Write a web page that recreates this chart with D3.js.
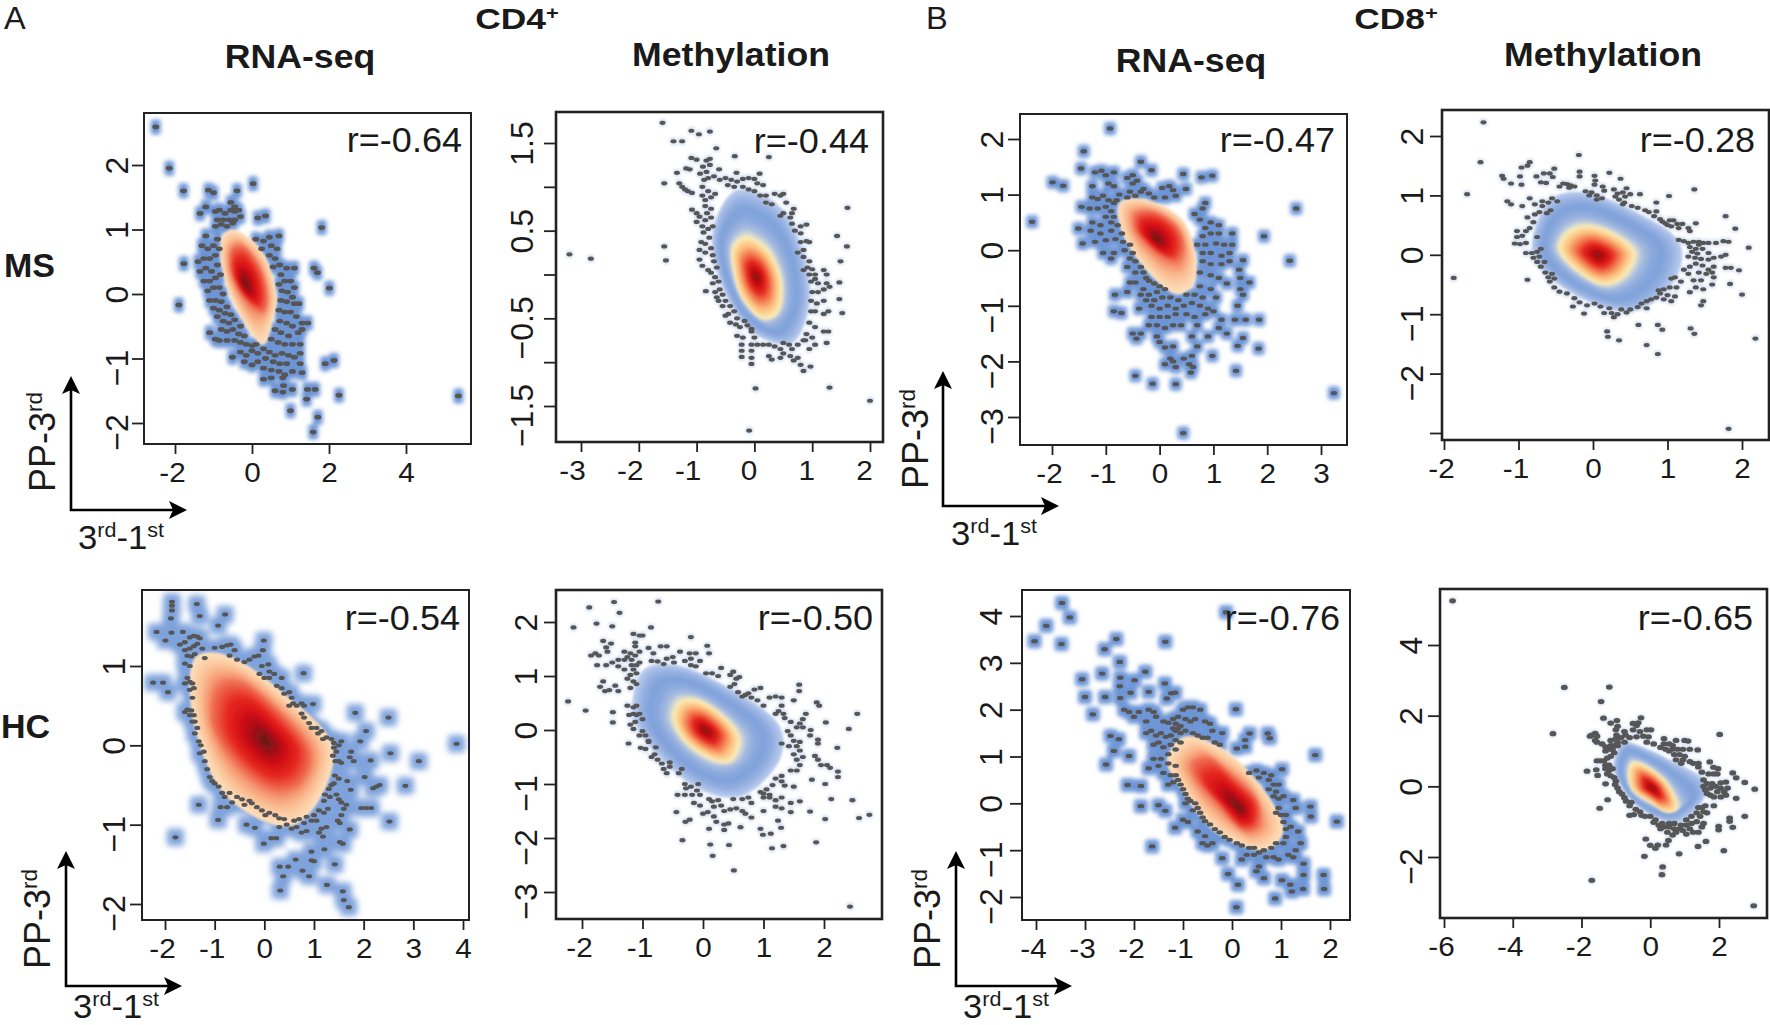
<!DOCTYPE html>
<html><head><meta charset="utf-8">
<script src="https://cdn.jsdelivr.net/npm/d3@7/dist/d3.min.js"></script>
<style>html,body{margin:0;padding:0;background:#fff}svg{display:block}text{font-family:"Liberation Sans",Arial,sans-serif;fill:#1a1a1a}</style>
</head><body><div id="chart"></div>
<script>
// ---- Outlying points (x, y in data units) ----
const msRnaCd4 = [[-2.5,2.59],[-2.15,1.95],[-1.78,1.6],[-1.13,1.61],[-1,1.57],[-.39,1.6],[.03,1.71],[.15,1.18],[.35,1.21],[1.81,1.03],[-1.77,.47],[-1.9,-.17],[1.61,.4],[1.7,.33],[2.01,.09],[1.9,-1.08],[2.13,-1.03],[2.26,-1.57],[5.36,-1.58],[1.59,-2.14],[1.71,-1.91],[1,-1.81],[1.42,-1.63],[1.44,-1.48],[1.64,-1.48],[-.51,-.98],
[-.95,1.28],[-.85,1.3],[-.7,1.25],[-.55,1.3],[-.45,1.28],[-.35,1.3],[-.9,1.15],[-.75,1.15],[-.6,1.15],[-.45,1.15],[-.3,1.2],[-.95,1.05],[-.8,1.08],[-.65,1.05],[-.5,1.1],[-1.35,1.25],[-1.2,1.35],[-.55,1.42],[-.45,1.35],
[-1.2,.9],[-1.3,.75],[-1.15,.7],[-1,.75],[-.9,.85],[-1.4,.5],[-1.25,.55],[-1.1,.55],[-.95,.6],[-.85,.7],[-1.35,.35],[-1.2,.4],[-1.05,.35],[-.9,.45],[-1.25,.2],[-1.1,.2],[-.95,.25],[-.82,.3],[-1.15,.05],[-1,.1],[-.85,.1],[-.75,0],[-1.1,-.1],[-.95,-.1],[-.8,-.12],[-.65,-.2],[-1,-.22],[-.85,-.25],[-.7,-.3],[-.55,-.32],[-.9,-.35],[-.75,-.42],[-.6,-.45],[-.45,-.4],[-.3,-.5],[-.8,-.55],[-.65,-.58],[-.5,-.55],[-.35,-.62],[-.2,-.65],[-1.1,-.6],[-.95,-.7],[-.85,-.72],[-.65,-.72],[-.45,-.72],[-.3,-.75],[-.15,-.78],[0,-.8],[.1,-.78],
[.3,.82],[.45,.88],[.7,.9],[.1,.85],[.25,.7],[.5,.75],[.65,.7],[.45,.6],[.6,.55],[.55,.42],[.72,.45],[.75,.3],[.9,.4],[1.1,.4],[.7,.15],[.85,.2],[1,.2],[1.1,.1],[.78,.05],[.92,.03],[1.05,-.05],[.75,-.1],[.9,-.12],[1.1,-.15],[1.22,-.15],[.7,-.25],[.85,-.28],[1,-.28],[1.15,-.35],[.72,-.42],[.9,-.45],[1.05,-.5],[1.3,-.45],[1.45,-.45],[.6,-.55],[.75,-.6],[.95,-.65],[1.2,-.6],[1.3,-.55],[.5,-.7],[.68,-.75],[.85,-.78],[1.05,-.78],[1.25,-.78],
[-.3,-.9],[-.15,-.95],[0,-.88],[.15,-.92],[.3,-.85],[.45,-.9],[.6,-.95],[.78,-.92],[.95,-.95],[1.1,-.98],[1.25,-.92],[-.2,-1.05],[0,-1.1],[.15,-1.05],[.35,-1],[.55,-1.05],[.72,-1.08],[.9,-1.08],[1.25,-1.08],[.3,-1.15],[.5,-1.18],[.7,-1.2],[.85,-1.25],[1.05,-1.2],[1.3,-1.22],[.3,-1.32],[.5,-1.3],[.8,-1.3],[.6,-1.5],[.8,-1.52],[1.05,-1.48],[.82,-1.42]];

const msMethCd4 = [[-1.59,1.73],[-1.09,1.64],[-.96,1.6],[-.77,1.63],[-1.4,1.52],[-1.25,1.52],[-.66,1.44],[-.34,1.35],[.25,1.34],[-1.56,1.04],[-1.56,.32],[-1.53,.16],[-3.2,.23],[-2.83,.18],[1.61,.76],[1.43,.44],[1.6,.32],[1.49,.15],[1.47,-.09],[1.47,-.28],[1.52,-.44],[.02,-1.3],[1.3,-1.29],[2,-1.44],[-.09,-1.78],[-.84,-.19],
[-1.09,1.33],[-1,1.31],[-.83,1.3],[-.77,1.32],[-1.18,1.21],[-1.12,1.2],[-.89,1.23],[-.77,1.25],[-1.34,1.16],[-.94,1.15],[-.83,1.17],[-.61,1.2],[-.31,1.16],[.09,1.15],[-.87,1.08],[-.8,1.1],[-.7,1.12],[-.6,1.08],[-.5,1.1],[-.4,1.08],[-.3,1.06],[-.2,1.09],[-.1,1.1],[0,1.09],[.05,1.04],[.15,1.02],[-.46,1.02],[-.35,1],[-.2,1],[-.1,.97],[0,.95],[.1,.9],[.2,.9],[.35,.92],[.45,.9],[.5,.92],[.3,.8],[.2,.82],[-1.3,1.04],[-1.25,1],[-1.2,.97],[-1.15,.95],[-1.08,.93],
[-.9,1],[-.9,.9],[-.8,.95],[-.85,.85],[-.75,.88],[-.68,.92],[-.85,.78],[-.75,.75],[-.82,.7],[-1.08,.74],[-1,.7],[-.95,.66],[-.85,.62],[-.75,.65],[-1,.6],[-.9,.55],[-.8,.52],[-.88,.48],[-.78,.42],[-.72,.55],[-.92,.37],[-.85,.35],[-.75,.3],[-.95,.28],[-.85,.25],[-.72,.22],[-.95,.17],[-.9,.1],[-.8,.05],[-.7,.15],[-.75,.02],[-.65,.08],[-.68,-.03],[-.62,-.08],[-.72,-.1],[-.6,-.17],[-.68,-.2],[-.65,-.26],[-.55,-.23],[-.62,-.3],[-.5,-.3],[-.55,-.36],[-.42,-.36],[-.35,-.42],[-.45,-.45],[-.5,-.47],[-.3,-.5],[-.42,-.55],[-.32,-.57],[-.17,-.53],[-.25,-.6],[-.12,-.58],[-.05,-.62],
[-.3,-.7],[-.2,-.72],[-.05,-.65],[0,-.72],[-.05,-.8],[-.22,-.8],[-.22,-.87],[-.22,-.94],[-.05,-.87],[.05,-.8],[.15,-.8],[.25,-.8],[.35,-.82],[.45,-.85],[.5,-.78],[.6,-.8],[.65,-.85],[.75,-.8],[.5,-.9],[.45,-.95],[.25,-.93],[.3,-.97],[.62,-.93],[.75,-.95],[.68,-.98],[.8,-1.03],[.85,-1.1],[.97,-1.05],[-.05,-.95],[-.05,-1.02],[.85,-.75],
[.55,.82],[.68,.75],[.5,.7],[.45,.67],[.62,.65],[.65,.7],[.8,.55],[.65,.58],[.7,.5],[.8,.47],[.9,.57],[.95,.37],[.8,.37],[.9,.38],[.85,.28],[.75,.25],[.85,.2],[.95,.15],[.92,.08],[1,.06],[.85,.05],[.95,0],[1.05,0],[1.2,.05],[1.25,0],[1.05,-.05],[.98,-.08],[1.1,-.1],[1.25,-.1],[1.3,-.14],[1,-.2],[1.1,-.2],[1.2,-.17],[.98,-.3],[1.08,-.33],[1.2,-.3],[.98,-.42],[1.05,-.42],[1.2,-.45],[1.28,-.42],[.95,-.55],[1.05,-.6],[1.2,-.65],[1.28,-.65],[.9,-.68],[1,-.72],[.88,-.75],[1.05,-.8],[1.25,-.78],[.95,-.85]];

const msRnaCd8 = [[-.92,2.19],[-1.41,1.78],[-1.46,1.47],[-.35,1.59],[-.15,1.44],[.44,1.37],[.78,1.31],[.98,1.34],[.49,1.1],[-1.99,1.22],[-1.79,1.16],[-2.37,.51],[-1.45,.78],[-1.51,.39],[-1.43,.12],[2.54,.75],[1.94,.25],[2.42,-.19],[3.24,-2.57],[.44,-3.29],[1.85,-1.25],[1.84,-1.77],[.98,-1.9],[1.42,-2.17],[-.45,-2.26],[-.13,-2.4],[.3,-2.41],[-.83,-.8],[-.85,-1.1],[-.71,-1.13],[-.43,-1.59],
[-1.2,1.4],[-1.08,1.43],[-1,1.35],[-.85,1.4],[-.6,1.3],[-.5,1.35],[-.5,1.2],[-.42,1.25],[-.3,1.1],[.05,1.12],[.18,1.15],[.25,1.08],[.3,.98],[.1,.95],[-.1,.95],[-.2,1.02],[-.35,1.05],[-.55,1.05],[-.45,.98],[-.6,.95],[-.95,1.2],[-.85,1.15],[-1.25,1.15],[-.75,1],[-.8,.9],
[-1.25,.95],[-1.15,.92],[-1.05,.98],[-.95,.9],[-.85,.85],[-1.3,.75],[-1.15,.75],[-1,.78],[-.9,.7],[-.85,.6],[-1,.6],[-1.25,.5],[-1.1,.45],[-.9,.5],[-.78,.45],[-1.28,.35],[-1.1,.3],[-.9,.35],[-.7,.3],[-1.2,.15],[-1,.18],[-.82,.2],[-.68,.15],[-.55,.1],[-.65,0],[-.5,-.05],[-1.05,-.05],[-.9,-.15],[-.85,-.05],[-.55,-.15],[-.45,-.2],[-.6,-.3],[-.35,-.3],[-.45,-.4],[-.3,-.4],[-.25,-.5],[-.55,-.58],[-.45,-.58],[-.6,-.75],[-.3,-.7],[-.2,-.55],[-.1,-.6],[-.35,-.8],[-.2,-.8],[-.05,-.75],[0,-.65],[.1,-.7],
[-.38,-1.05],[-.25,-.9],[-.1,-.9],[.05,-.85],[.2,-.85],[.35,-.9],[.5,-.8],[.65,-.8],[.8,-.85],[-.15,-1],[0,-1.05],[.15,-1],[.3,-1.05],[.45,-1],[.6,-.95],[.75,-1],[.9,-1.05],[-.15,-1.2],[0,-1.2],[.15,-1.2],[.3,-1.15],[.5,-1.15],[.65,-1.2],[.85,-1.15],[1,-1.1],[-.2,-1.35],[-.05,-1.35],[.1,-1.4],[.25,-1.35],[.4,-1.35],[.7,-1.35],[1.15,-1.25],[1.1,-1.4],[-.05,-1.55],[0,-1.65],[.1,-1.75],[.25,-1.73],[-.5,-1.5],[-.35,-1.5],[.6,-1.55],[.9,-1.55],[.7,-1.73],[1.25,-1.5],[1.4,-1.25],[1.6,-1.25],[1.45,-1.72],[1.55,-1.58],[.1,-2.05],[.25,-2],[.2,-1.95],[.45,-1.95],[.6,-1.9],[.55,-2.05],[.62,-2.1],[.58,-2.2],[.3,-2.1],
[.65,.65],[.75,.55],[.85,.4],[.95,.5],[1.1,.45],[.8,.25],[.95,.3],[1.1,.3],[1.35,.3],[.7,.1],[.85,.1],[1.05,.12],[1.2,.1],[1.35,.1],[.8,-.05],[.95,-.05],[1.15,-.1],[1.3,-.05],[.8,-.2],[.95,-.25],[1.15,-.25],[1.3,-.2],[1.55,-.18],[.75,-.4],[.95,-.45],[1.1,-.5],[1.25,-.6],[1.48,-.35],[1.5,-.5],[1.67,-.58],[.75,-.65],[.95,-.7],[1.05,-.85],[1.5,-.7],[1.55,-.8],[1.45,-1],[.85,.85],[.8,.75]];

const msMethCd8 = [[-1.47,2.23],[-1.51,1.56],[-1.69,1.02],[-1.87,-.39],[-.19,1.68],[1.82,-2.93],[2.18,-1.41],[2.09,.12],[1.91,.44],[1.78,.65],[2,-.67],[1.96,-.26],[1.84,-.49],[1.36,1.1],[1.02,.99],[.85,.88],[-.88,-.42],[.87,-1.67],[.72,-1.52],[.35,-1.44],[.2,-1.38],[.19,-1.29],[1.36,-1.33],[1.31,-1.24],[.93,-1.26],[.87,-1.18],[.61,-1.18],[-.12,-.99],[-.27,-.87],
[-.96,1.47],[-.85,1.56],[-.88,1.5],[-.76,1.32],[-.7,1.22],[-.63,1.21],[-.66,1.37],[-.58,1.37],[-.52,1.45],[-.54,1.31],[-1.22,1.33],[-1.2,1.28],[-1.1,1.2],[-.96,1.18],[-.98,1.32],[-.45,1.15],[-.35,1.19],[-.3,1.17],[-.4,1.2],[-.32,1.13],[-.25,1.15],[-.18,1.4],[-.18,1.32],[.02,1.33],[.03,1.25],[.22,1.38],[.37,1.28],[.02,1.18],[.13,1.15],[-.1,1.07],[-.02,1.05],[.05,1],[.12,.95],[.05,.93],[-.05,1],[.15,1.08],[.28,1.1],[.33,1.03],[.4,1.05],[.45,1.12],[.43,.98],[.35,.93],[.42,.88],[.5,1.02],[.63,1.02],[.3,.98],[.4,.85],[.52,.82],[.6,.79],[.7,.75],[.75,.72],[.85,.73],[.82,.65],[.9,.6],[.93,.56],[.97,.53],[1.03,.58],[1.08,.58],[1,.5],[1.05,.48],[1.13,.52],[1.2,.52],[1.15,.45],[1.28,.45],[1.3,.4],[1.38,.53],
[1.15,.25],[1.22,.23],[1.28,.2],[1.35,.22],[1.42,.22],[1.48,.2],[1.55,.2],[1.65,.2],[1.75,.23],[1.82,.22],[1.3,.13],[1.38,.1],[1.42,.17],[1.33,.05],[1.4,.02],[1.47,.1],[1.55,.03],[1.28,-.03],[1.37,-.05],[1.45,-.07],[1.55,-.08],[1.62,-.05],[1.72,-.03],[1.78,0],[1.38,-.15],[1.47,-.18],[1.3,-.2],[1.22,-.25],[1.28,-.32],[1.55,-.25],[1.62,-.2],[1.6,-.3],[1.42,-.3],[1.52,-.32],[1.62,-.38],[1.78,-.22],[1.85,-.22],[1.6,-.5],[1.45,-.43],[1.35,-.43],[1.18,-.45],[1.05,-.4],[1.1,-.38],[1.38,-.55],[1.48,-.58],[1.3,-.63],[1.12,-.55],[1.03,-.55],[.95,-.58],[.88,-.6],[.9,-.65],[1,-.68],[1.1,-.7],[1.48,-.78],[1.45,-.85],[1.05,-.78],[.95,-.75],[.85,-.72],[.78,-.75],[.72,-.78],[.65,-.82],[.72,-.9],[.6,-.88],[.5,-.92],[.45,-.97],[.38,-.92],[.33,-1],[.25,-.98],[.28,-1.05],[.15,-.98],[.22,-.9],[.1,-.87],[.02,-.82],[-.08,-.85],[-.18,-.8],[-.25,-.73],[-.35,-.65],[-.45,-.62],[-.52,-.55],[-.58,-.45],[-.52,-.4],[-.6,-.38],[-.64,-.3],[-.55,-.32],[-.7,-.2],[-.75,-.12],[-.8,-.05],[-.72,-.03],[-.65,-.12],[-.9,.03],[-.82,.03],[-.75,.05],[-.7,.1],
[-1.05,.19],[-.98,.18],[-.9,.2],[-1.02,.3],[-.95,.32],[-1.02,.4],[-.9,.4],[-.85,.45],[-.75,.3],[-.8,.55],[-.88,.63],[-.78,.68],[-.72,.72],[-.62,.7],[-.57,.75],[-.68,.82],[-.78,.85],[-.68,.9],[-.6,.88],[-.55,.95],[-.48,.9],[-1.15,.9],[-1.1,.85],[-.95,.82],[-.85,.95]];

const hcRnaCd4 = [[-1.86,1.81],[-1.86,1.76],[-1.86,1.7],[-1.88,1.6],[-1.36,1.78],[-1.3,1.63],[-.79,1.65],[-.93,1.51],[-2.17,1.43],[-1.87,1.42],[-1.99,1.32],[-1.64,1.43],[-.01,1.32],[-.03,1.2],[.79,.91],[-2.24,.79],[-2.04,.79],[-1.94,.67],[1.83,.41],[2.5,.35],[2.05,.18],[1.93,.05],[2.54,-.1],[3.11,-.2],[3.87,.02],[2.14,-.19],[2.84,-.51],[2.26,-.52],[2.19,-.54],[2.32,-.5],[2.02,-.4],[2.05,-.79],[1.95,-.79],[2.15,-.79],[2.52,-.96],[-1.32,-.75],[-1.79,-1.16],[-.93,-.94],[-.36,-1],[-.19,-1.04],[-.01,-1.24],[.14,-1.17],[.24,-1.17],[.31,-1.53],[.48,-1.53],[.38,-1.65],[.32,-1.83],[.63,-1.44],[.77,-1.58],[.9,-1.65],[.95,-1.45],[1,-1.46],[.95,-1.34],[1.42,-1.5],[1.26,-1.76],[1.58,-1.84],[1.6,-1.95],[1.7,-2.04],[1.52,-1.22],[1.58,-1.24],[1.72,-1.06],[1.21,-1.31],[1.18,-1.15],[1.52,-.98],[1.74,-.56],[1.67,-.45],
[-1.7,1.27],[-1.6,1.3],[-1.5,1.36],[-1.42,1.38],[-1.35,1.37],[-1.3,1.35],[-1.6,1.2],[-1.5,1.22],[-1.42,1.25],[-1.35,1.28],[-1.25,1.22],[-1.55,1.13],[-1.47,1.12],[-1.4,1.15],[-1.2,1.1],[-1.6,1.03],[-1.5,1],
[-1,1.23],[-.85,1.24],[-.75,1.26],[-.68,1.27],[-.6,1.2],[-.7,1.13],[-.55,1.08],[-.4,1.05],[-.2,1.12],[-.12,1.13],[-.3,1.08],[-.05,1],[.08,1.02],[.1,.93],[-.1,.9],[0,.85],[.1,.85],[.2,.9],[.35,.85],[.25,.75],[.35,.72],[.4,.65],[.5,.67],[.55,.6],[.58,.53],[.65,.5],[.5,.5],[.75,.53],[.8,.5],[.98,.52],[.75,.4],[.8,.35],[.9,.28],[.95,.22],[1.05,.22],[1.08,.15],[1.15,.18],[1.18,.08],[1.25,.1],[1.35,.08],[1.4,.03],[1.55,.05],[1.5,0],
[1.4,-.03],[1.45,-.08],[1.38,-.13],[1.43,-.2],[1.5,-.2],[1.55,-.22],[1.75,-.08],[1.72,-.15],[1.8,-.2],[1.42,-.38],[1.5,-.42],[1.4,-.48],[1.35,-.5],[1.3,-.55],[1.22,-.62],[1.2,-.7],[1.32,-.65],[1.45,-.62],[1.5,-.68],[1.55,-.72],[1.65,-.75],[1.6,-.8],[1.55,-.88],[1.48,-.95],[1.1,-.82],[1.2,-.85],[1.28,-.8],[1,-.88],[.95,-.95],[1.05,-.95],[.85,-.9],[.8,-.98],[.7,-.93],[.6,-.95],[.65,-1.03],[.55,-1.05],[.45,-1],[.4,-.93],[.3,-.92],[.22,-.88],[.1,-.85],[.02,-.88],[-.05,-.82],[-.15,-.78],[-.25,-.73],[-.3,-.7],[-.45,-.68],[-.55,-.65],[-.4,-.75],[-.65,-.72],[-.75,-.78],[-.88,-.78],[.3,-1.03],[.75,-1.1],[.85,-1.08],[1.1,-1.1],[1.15,-1.05],[1.25,-1.03],
[-1.55,.85],[-1.5,.8],[-1.6,.78],[-1.45,.78],[-1.42,.72],[-1.5,.7],[-1.45,.6],[-1.55,.45],[-1.47,.44],[-1.6,.42],[-1.5,.38],[-1.42,.38],[-1.4,.3],[-1.35,.22],[-1.45,.3],[-1.4,.15],[-1.32,.05],[-1.28,0],[-1.22,-.08],[-1.3,-.1],[-1.2,-.2],[-1.15,-.3],[-1.1,-.4],[-1.05,-.45],[-1,-.48],[-.92,-.52],[-.85,-.6],[-.8,-.65],[-.7,-.6]];

const hcMethCd4 = [[-1.47,2.37],[-.74,2.38],[-1.88,2.27],[-1.38,2.17],[-2.14,1.9],[-1.76,1.97],[-1.5,1.92],[-.86,1.9],[-.2,1.72],[.07,1.56],[-2.23,.53],[-1.94,.36],[-1.49,.33],[-1.49,.14],[1.59,.84],[1.59,.72],[1.88,.51],[1.92,.45],[2.03,.14],[2.55,.3],[2.41,.02],[2.22,-.33],[2.23,-.77],[2.23,-.87],[1.8,-.92],[2.02,-1],[2.12,-1.28],[2.47,-1.3],[2.75,-1.57],[2.58,-1.63],[2.02,-1.65],[1.77,-1.51],[1.87,-2.08],[1.33,-2.15],[1.14,-2.19],[1.12,-1.92],[.99,-1.94],[.95,-1.83],[1.29,-1.81],[1.24,-1.68],[.62,-1.8],[.43,-2.13],[.12,-2.12],[.16,-2.33],[.51,-2.6],[-.34,-2.04],[2.43,-3.27],[-.44,-1.52],[-.22,-1.66],[-.29,-1.7],[-1.23,-.25],[-1.03,-.33],
[-1.85,1.38],[-1.78,1.42],[-1.72,1.38],[-1.65,1.65],[-1.6,1.53],[-1.52,1.6],[-1.58,1.45],[-1.75,1.2],[-1.6,1.2],[-1.5,1.25],[-1.4,1.3],[-1.4,1.18],[-1.3,1.45],[-1.25,1.35],[-1.2,1.42],[-1.3,1.3],[-1.18,1.3],[-1.12,1.38],[-1.05,1.45],[-1.12,1.55],[-1.15,1.78],[-1.05,1.75],[-1,1.75],[-1.12,1.62],[-1.18,1.2],[-1.05,1.25],[-1.3,1.12],[-1.15,1.12],[-1.1,1.2],[-1.2,1.02],[-1.1,1.05],[-1.25,.95],[-1.15,.9],[-1.1,.85],[-1.7,.8],[-1.62,.72],[-1.55,.74],[-1.45,.82],[-1.4,.72],[-1.65,.9],[-1.2,.78],
[-.9,1.52],[-.82,1.42],[-.7,1.55],[-.6,1.55],[-.85,1.28],[-.75,1.27],[-.65,1.22],[-.6,1.32],[-.5,1.35],[-.48,1.25],[-.38,1.45],[-.3,1.28],[-.2,1.32],[-.22,1.42],[-.12,1.42],[-.2,1.2],[-.12,1.18],[-.05,1.28],[.1,1.42],[.15,1.05],[.05,1.05],[.3,1.15],[.25,1],[.45,1.02],[.5,1.08],[.55,.95],[.52,.85],[.6,.98],[.45,.8],[.58,.7],[.7,.65],[.8,.6],[.65,.62],[.75,.68],[.85,.75],[.95,.78],[.9,.55],[1,.45],[1.1,.6],[1.2,.62],[1.3,.6],[1.5,.55],
[1.3,.45],[1.25,.35],[1.33,.3],[1.2,.3],[1.35,.22],[1.45,.15],[1.7,.3],[1.65,.2],[1.6,.12],[1.65,.05],[1.55,.05],[1.4,-.02],[1.45,-.1],[1.5,-.2],[1.6,-.22],[1.42,-.3],[1.3,-.25],[1.55,-.3],[1.6,-.38],[1.5,-.45],[1.65,-.5],[1.55,-.55],[1.6,-.65],[1.78,0],[1.77,-.1],[1.9,-.18],[1.9,-.25],[1.85,-.48],[1.9,-.55],[1.95,-.65],[2.05,-.65],[2.1,-.7],[1.45,-.75],[1.55,-.75],[1.3,-.85],[1.2,-.9],[1.3,-.95],[1.35,-1.03],[1.5,-1.05],[1.15,-1.02],[1.05,-1.1],[1.1,-1.2],[1,-1.18],[.95,-1.15],[1,-1.25],[1.1,-1.25],[1.2,-1.3],[1.3,-1.25],[1.2,-1.42],[1.3,-1.45],[1.45,-1.35],[1.6,-1.32],[1.45,-1.52],[1,-1.5],[.8,-1.35],[.75,-1.25],[.65,-1.28],
[.5,-1.28],[.55,-1.45],[.45,-1.47],[.65,-1.5],[.7,-1.55],[.8,-1.62],[.35,-1.5],[.3,-1.4],[.25,-1.3],[.15,-1.32],[.1,-1.28],[.18,-1.42],[.08,-1.52],[0,-1.55],[.18,-1.6],[.22,-1.7],[.35,-1.75],[.42,-1.73],[.35,-1.85],[.1,-1.83],[-.05,-1.4],[-.15,-1.35],[-.05,-1.2],[-.1,-1.12],[-.2,-1.05],[-.28,-1.08],[-.3,-1],[-.42,-1.2],[-.3,-1.2],[-.18,-1.2],[-.08,-1],
[-.4,-.8],[-.35,-.72],[-.55,-.68],[-.6,-.8],[-.65,-.72],[-.68,-.62],[-.55,-.6],[-.75,-.55],[-.85,-.5],[-.8,-.45],[-.78,-.32],[-.9,-.22],[-.95,-.1],[-1.05,-.1],[-1,-.02],[-1.15,.02],[-1.2,.1],[-1.12,.15],[-1.1,.28],[-1.05,.3],[-1.15,.3],[-1.22,.28],[-1.15,.42],[-1.1,.45],[-1.25,.45],[-1,.2],[-.9,-.2],[-.95,-.35]];

const hcRnaCd8 = [[-3.47,4.28],[-3.31,3.97],[-3.79,3.79],[-4.03,3.46],[-3.48,3.4],[-2.36,3.51],[-2.6,3.29],[-1.36,3.45],[-.12,4.08],[-2.29,3.02],[-3.06,2.65],[-2.65,2.77],[-1.77,2.81],[-3,2.27],[-2.59,2.27],[-2.84,1.9],[.08,2.01],[-1.99,2.63],[-2.28,2.68],[-2.29,2.5],[-1.37,2.56],[-2.28,2.25],[-2.07,2.36],[-1.7,2.38],[-1.24,2.35],[-1.16,2.36],[-1.33,2.24],[-2.48,1.44],[-2.31,1.37],[-2.41,1.12],[-2.57,.83],[-2.1,1.01],[-2.13,.39],[-1.86,.37],[-1.86,-.06],[-1.5,-.04],[-1.36,-.16],[-1.16,-.52],[-1.63,-.92],[1.7,1.03],[2.14,-.39],[.73,1.49],[.77,1.39],[1.02,.73],[1.6,-.07],[1.61,-.28],[1.87,-1.53],[1.88,-1.83],[.88,-2.03],[.09,-2.22],[.12,-1.74],[-.08,-1.51],[-.2,-1.17],[.65,-1.6],[1.02,-1.64],[1.19,-1.74],[1.22,-1.88],[1.45,-1.83],[1.46,-1.53],[1.46,-1.29],[.36,1.49],[.27,1.35],[.27,1.21],[.1,1.17],
[-2.2,2],[-2.1,1.95],[-2,1.85],[-1.9,1.95],[-1.7,2],[-1.6,1.95],[-1.75,1.75],[-1.55,1.85],[-1.4,1.75],[-1.3,1.72],[-1.2,1.8],[-1.1,1.85],[-1,2],[-.9,2.05],[-.8,2.05],[-.65,2],[-.95,1.8],[-.85,1.75],[-.75,1.8],[-.55,1.75],[-.45,1.7],[-.4,1.55],[-.2,1.5],[-1.15,1.7],[-1.2,1.6],[-1.1,1.6],[-1.05,1.65],[-1.15,1.55],[-1.05,1.5],[-.95,1.55],[-.8,1.5],[-.7,1.45],[-.6,1.4],[-.5,1.4],[-.35,1.3],[-.25,1.25],[-1.75,1.5],[-1.65,1.55],[-1.55,1.45],[-1.45,1.5],[-1.35,1.42],[-1.25,1.45],[-1.15,1.35],[-1.05,1.3],[-1.6,1.25],[-1.5,1.3],[-1.4,1.2],[-1.25,1.25],[-1.15,1.15],[-1.3,1.05],[-1.45,.95],[-1.6,.95],[-1.7,.75],[-1.5,.8],[-1.3,.85],[-1.15,.8],[-1.4,.65],[-1.25,.6],[-1.3,.4],[-1.2,.45],[-1.15,.6],[-1.1,.5],[-1.05,.4],[-1,.3],[-.95,.2],[-.9,.1],[-.95,0],[-.85,.05],[-.75,0],[-.7,-.1],[-.8,-.15],[-.65,-.2],[-.6,-.3],[-.55,-.38],[-.45,-.45],[-.35,-.55],[-.25,-.62],[-.15,-.72],[-.05,-.78],[.1,-.85],[.2,-.9],[.35,-.95],[-1,-.35],[-.9,-.4],[-.7,-.6],[-.55,-.7],[-.6,-.85],[-.5,-.9],[-.4,-.85],
[.35,.65],[.5,.7],[.65,.65],[.8,.6],[.55,.55],[.75,.5],[.85,.4],[.95,.4],[.75,.3],[.9,.25],[.85,.15],[.95,.1],[1.05,.15],[1.25,.07],[.95,-.1],[.9,-.2],[1,-.25],[1.1,-.25],[1.3,-.1],[1.05,-.4],[1.1,-.55],[1.2,-.5],[1.35,-.6],[1.1,-.72],[1.05,-.85],[.9,-.85],[.8,-.95],[.65,-1],[.55,-1.05],[.45,-1.1],[.3,-1.1],[.45,-.95],[.7,-1.15],[.85,-1.15],[.95,-1.2],[1.25,-1.15],[1.15,-1.1],[.2,-1.2],[.5,-1.45],[.55,-1.35],[1.3,-1],[1.4,-.85]];

const hcMethCd8 = [[-5.75,5.25],[-2.5,2.8],[-1.19,2.81],[-1.43,2.4],[-2.83,1.49],[2.02,1.47],[-1.36,1.93],[-.27,1.94],[-.97,1.86],[-1.15,1.79],[3.04,-.08],[2.75,.11],[2.75,-.85],[2.14,-1.82],[.84,-1.91],[-.17,-1.98],[.36,-2.28],[.34,-2.5],[-1.7,-2.66],[3.01,-3.38],[-1.47,-.62],[-1.24,-.38],[-1.84,.43],[-1.57,.47],[-1.53,.31],[-.13,-1.49],[0,-1.67],[.15,-1.75],[.22,-1.66],[.46,-1.66],[.53,-1.53],[1.39,-1.7],[1.62,-1.56],[2.4,-1.16],[2.31,-.9],[2.31,-.99],[1.99,-1.13],[1.99,-1.23],[2.4,.38],[2.5,.24],[2.5,-.34],[1.73,.69],[1.84,.54],[1.97,.5],
[-1.7,1.45],[-1.6,1.5],[-1.75,1.42],[-1.55,1.42],[-1.6,1.3],[-1.55,1.25],[-1.4,1.2],[-1.3,1],[-1.3,1.12],[-1.15,1.3],[-1,1.35],[-1,1.6],[-.98,1.45],[-.95,1.7],[-.75,1.55],[-.72,1.45],[-.5,1.78],[-.4,1.72],[-.35,1.8],[-.5,1.6],[-.3,1.55],[-.1,1.6],[-.05,1.4],[.02,1.6],[-.2,1.42],[-.4,1.4],[-.6,1.38],[-.85,1.38],[-.75,1.25],[-.95,1.25],[-1.15,1.15],[-1.05,1.15],[-.95,1.15],[-1.2,1.05],[-1.1,1.05],[-1.55,.72],[-1.45,.72],[-1.35,.72],[-1.25,.8],[-1.15,.85],[-1.05,.95],[-1.3,.6],[-1.2,.6],[-1.3,.5],[-1.2,.45],[-1.1,.5],[-1.25,.35],[-1.15,.3],[-1.3,.07],[-1.05,.25],[-1,.15],[-1.02,.05],[-.95,-.05],[-.9,-.15],[-.82,-.22],[-.75,-.32],[-.7,-.42],[-.6,-.55],[-.55,-.45],[-.42,-.65],[-.3,-.72],[-.6,-.82],[-.48,-.8],[-.25,-.82],[-.15,-.85],[0,-.85],[.15,-.95],[.1,-1.02],[.25,-1.1],[.4,-1.15],[.55,-1.15],[.7,-1.2],[.85,-1.2],[.5,-1.3],[.65,-1.38],[.75,-1.3],[.95,-1.25],[1.15,-1.2],[1.05,-1.35],[1.25,-1.3],[1.4,-1.3],[1.5,-1.15],[.3,-1.2],[.35,-1.05],[.55,-1.05],[.7,-1.05],[.9,-1.1],[1.05,-1.1],
[1.2,-1.05],[1.35,-1],[1.55,-1.05],[1.05,-.95],[1.2,-.85],[1.35,-.75],[1.45,-.85],[1.55,-.72],[1.65,-.75],[1.6,-.55],[1.5,-.6],[1.4,-.6],[1.85,-.55],[1.85,-.3],[1.75,-.25],[1.65,-.2],[1.75,-.05],[1.6,-.1],[1.55,0],[1.65,.08],[1.8,.08],[1.9,0],[2.05,-.05],[2.15,-.15],[2.2,-.25],[2.05,-.3],[1.95,-.15],[2.25,-.05],[2.05,.1],[2.2,.12],[1.55,.18],
[.4,1.35],[.1,1.2],[-.1,1.25],[.4,1.2],[.55,1.2],[.65,1.15],[.75,1.3],[1,1.3],[1.1,1.28],[.3,1.1],[.45,1.05],[.55,1],[.65,1.05],[.8,1.05],[.95,1.05],[1.15,1.05],[1.38,1.03],[.7,.9],[.85,.9],[1,.85],[.75,.75],[.95,.75],[1.15,.7],[1.25,.65],[1.4,.55],[1.5,.4],[1.7,.35],[1.95,.35],[.9,.65],[1.4,.65],[1.85,.35]];

// ---- Density bands: outer edge, inner edge, peak (data units) ----
const densMsRnaCd4 = {outer:[[-.79,.87],[-.53,1],[.21,.71],[.64,-.04],[.51,-.47],[.29,-.79],[-.48,-.15],[-.79,.44]],inner:[[-.48,.71],[-.23,.73],[.21,.39],[.38,-.04],[.29,-.26],[.03,-.2],[-.35,.06],[-.57,.44]],peak:[-.18,.14]};
const densMsMethCd4 = {outer:[[-.31,.96],[.4,.8],[.85,.25],[.95,-.35],[.65,-.78],[0,-.68],[-.55,-.15],[-.72,.5]],inner:[[-.14,.43],[.24,.27],[.47,-.11],[.38,-.45],[.12,-.5],[-.22,-.26],[-.37,.08],[-.36,.33]],peak:[.03,-.03]};
const densMsRnaCd8 = {outer:[[-.74,.86],[-.3,.92],[.44,.53],[.69,-.31],[.59,-.67],[.32,-.79],[-.21,-.4],[-.71,.35]],inner:[[-.43,.65],[-.09,.68],[.32,.41],[.44,.05],[.32,-.19],[.07,-.13],[-.3,.17],[-.46,.41]],peak:[-.06,.2]};
const densMsMethCd8 = {outer:[[-.58,.92],[-.18,1.06],[.58,.72],[1.17,.19],[1.12,-.38],[.58,-.94],[-.27,-.66],[-.81,.02]],inner:[[-.34,.38],[-.09,.49],[.31,.33],[.56,.02],[.4,-.38],[.13,-.5],[-.27,-.21],[-.46,.13]],peak:[.07,-.01]};
const densHcRnaCd4 = {outer:[[-1.37,1.12],[-.77,1.14],[.38,.66],[1.38,-.01],[1.11,-.68],[.51,-1.02],[-.77,-.64],[-1.47,.45]],inner:[[-.9,.74],[-.5,.79],[.24,.45],[.91,-.1],[.71,-.47],[.24,-.56],[-.5,-.26],[-1.03,.28]],peak:[.04,.05]};
const densHcMethCd4 = {outer:[[-.98,1.12],[-.48,1.21],[.29,.87],[1.27,.07],[1.27,-.55],[.62,-1.23],[-.15,-1.04],[-1.14,.19]],inner:[[-.37,.53],[-.1,.55],[.34,.25],[.6,-.18],[.45,-.58],[.18,-.56],[-.32,-.18],[-.49,.25]],peak:[.04,-.01]};
const densHcRnaCd8 = {outer:[[-1.33,.92],[-.99,1.42],[-.31,1.24],[.44,.57],[1.05,-.57],[.71,-1],[-.31,-.64],[-1.12,.43]],inner:[[-.78,.85],[-.48,.96],[.03,.57],[.54,0],[.51,-.5],[.24,-.57],[-.31,0],[-.75,.57]],peak:[.14,-.11]};
const densHcMethCd8 = {outer:[[-.78,1.27],[-.53,1.23],[.58,.75],[1.65,.09],[1.55,-.38],[.78,-1.04],[-.49,-.47],[-1.07,.57]],inner:[[-.53,.66],[-.19,.61],[.49,.09],[.78,-.66],[.49,-.75],[0,-.47],[-.53,-.09],[-.63,.38]],peak:[.05,-.05]};

// ---- Tick values and labels ----
const ticksMsRnaCd4 = {x:[-2,0,2,4],y:[-2,-1,0,1,2]};
const ticksMsMethCd4 = {x:[-3,-2,-1,0,1,2],y:[-1.5,-1,-.5,0,.5,1,1.5],yLabels:[-1.5,-.5,.5,1.5]};
const ticksMsRnaCd8 = {x:[-2,-1,0,1,2,3],y:[-3,-2,-1,0,1,2]};
const ticksMsMethCd8 = {x:[-2,-1,0,1,2],y:[-3,-2,-1,0,1,2],yLabels:[-2,-1,0,1,2]};
const ticksHcRnaCd4 = {x:[-2,-1,0,1,2,3,4],y:[-2,-1,0,1]};
const ticksHcMethCd4 = {x:[-2,-1,0,1,2],y:[-3,-2,-1,0,1,2]};
const ticksHcRnaCd8 = {x:[-4,-3,-2,-1,0,1,2],y:[-2,-1,0,1,2,3,4]};
const ticksHcMethCd8 = {x:[-6,-4,-2,0,2],y:[-2,0,2,4]};

const correlations = ["r=-0.64","r=-0.44","r=-0.47","r=-0.28","r=-0.54","r=-0.50","r=-0.76","r=-0.65"];

// ---- Layout ----
const rnaHalo = {c:"#6d95d6",blur:2.1};
const methHalo = {c:"#dbe4f5",blur:1.1};
const panels = [
 {pts:msRnaCd4,dens:densMsRnaCd4,t:ticksMsRnaCd4,b:[144,113,471,444],xa:[-2,4,175,406],ya:[-2,2,423,165],hx:5,hy:7.5,halo:rnaHalo,ramp:"rna",rEnd:462,rY:152,yLab:16,dot:[3.5,2.4]},
 {pts:msMethCd4,dens:densMsMethCd4,t:ticksMsMethCd4,b:[556,112,883,442],xa:[-3,2,581,870],ya:[-1.5,1.5,406,143],hx:4,hy:4,halo:methHalo,ramp:"meth",rEnd:869,rY:153,yLab:23,sw:2.6,xs:-6,dot:[3,2.1]},
 {pts:msRnaCd8,dens:densMsRnaCd8,t:ticksMsRnaCd8,b:[1020,114,1347,445],xa:[-2,3,1052,1321],ya:[-3,2,417,139],hx:6,hy:6.5,halo:rnaHalo,ramp:"rna",rEnd:1335,rY:152,yLab:17,dot:[3.3,2.2]},
 {pts:msMethCd8,dens:densMsMethCd8,t:ticksMsMethCd8,b:[1442,110,1769,440],xa:[-2,2,1444,1742],ya:[-3,2,433,136],hx:4,hy:4,halo:methHalo,ramp:"meth",rEnd:1755,rY:152,yLab:19,sw:2.6,dot:[3,2.1]},
 {pts:hcRnaCd4,dens:densHcRnaCd4,t:ticksHcRnaCd4,b:[142,590,469,920],xa:[-2,4,165,463],ya:[-2,1,904,666],hx:8.5,hy:8.5,halo:{c:"#7ea2dc",blur:3},ramp:"rna",rEnd:460,rY:630,yLab:17,dot:[3,2.1]},
 {pts:hcMethCd4,dens:densHcMethCd4,t:ticksHcMethCd4,b:[556,590,882,919],xa:[-2,2,582,824],ya:[-3,2,892,622],hx:4,hy:4,halo:methHalo,ramp:"meth",rEnd:873,rY:630,yLab:19,sw:2.6,dot:[3,2.1]},
 {pts:hcRnaCd8,dens:densHcRnaCd8,t:ticksHcRnaCd8,b:[1022,590,1350,920],xa:[-4,2,1036,1330],ya:[-2,4,897,616],hx:7,hy:7,halo:rnaHalo,ramp:"rna",rEnd:1340,rY:630,yLab:20,dot:[3.3,2.2]},
 {pts:hcMethCd8,dens:densHcMethCd8,t:ticksHcMethCd8,b:[1440,589,1767,918],xa:[-6,2,1444,1719],ya:[-2,4,857,645],hx:4,hy:4,halo:methHalo,ramp:"meth",rEnd:1753,rY:630,yLab:18,sw:2.6,dot:[3.4,2.6]}
];
const ramps = {
 meth:{a:["#b8caec","#94afe1","#7fa2da","#8ba9dd","#a8bde0","#fdf0c0"],b:["#fdeab0","#fbc080","#f47a50","#e42a20","#c40c10","#701a18"]},
 rna:{a:["#fde0bc","#fcd0a8","#fabb90","#f69a74","#ef6a50"],b:["#ef6a50","#e62a22","#d41014","#a01014","#5c1c1a"]}
};
const arrows = [
 {x:71,y:510,top:376,right:187,ppX:55,ppY:492,stX:78,stY:549},
 {x:943,y:506,top:371,right:1059,ppX:928,ppY:489,stX:951,stY:545},
 {x:66,y:986,top:851,right:182,ppX:50,ppY:969,stX:73,stY:1018},
 {x:956,y:986,top:851,right:1072,ppX:940,ppY:969,stX:963,stY:1018}
];

const svg = d3.select("#chart").append("svg").attr("width",1770).attr("height",1025).attr("viewBox","0 0 1770 1025");
const defs = svg.append("defs");
const blur = (id,s)=>defs.append("filter").attr("id",id).attr("filterUnits","userSpaceOnUse").attr("x",0).attr("y",0).attr("width",1770).attr("height",1025).append("feGaussianBlur").attr("stdDeviation",s);
blur("coreBlur",1.3);

function rampScale(cols){return d3.scaleLinear().domain(cols.map((_,i)=>i/(cols.length-1))).range(cols).interpolate(d3.interpolateRgb);}
function txt(g,parts,x,y,o){
  const t=g.append("text").attr("transform",`translate(${x},${y})`+(o.rot?` rotate(${o.rot})`:"")+` scale(${o.sx||1},1)`)
    .attr("font-size",o.size).attr("font-weight",o.weight||"normal").attr("text-anchor",o.anchor||"start");
  (Array.isArray(parts)?parts:[[parts,0]]).forEach(([s,sup],i,a)=>{
    const ts=t.append("tspan").text(s);
    if(sup){ts.attr("font-size",o.size*.62).attr("dy",-o.size*.36);}
    else if(i&&a[i-1][1]){ts.attr("dy",o.size*.36);}
  });
  return t;
}

panels.forEach((p,i)=>{
  const [x0,y0,x1,y1]=p.b;
  const x=d3.scaleLinear().domain([p.xa[0],p.xa[1]]).range([p.xa[2],p.xa[3]]);
  const y=d3.scaleLinear().domain([p.ya[0],p.ya[1]]).range([p.ya[2],p.ya[3]]);
  const g=svg.append("g");
  defs.append("clipPath").attr("id","clip"+i).append("rect").attr("x",x0).attr("y",y0).attr("width",x1-x0).attr("height",y1-y0);
  blur("halo"+i,p.halo.blur);
  const plot=g.append("g").attr("clip-path",`url(#clip${i})`);
  plot.append("g").attr("filter",`url(#halo${i})`).selectAll("rect").data(p.pts).join("rect")
    .attr("x",d=>x(d[0])-p.hx).attr("y",d=>y(d[1])-p.hy).attr("width",2*p.hx).attr("height",2*p.hy).attr("rx",3)
    .attr("fill",p.halo.c);
  // nested density bands
  const pxOuter=p.dens.outer.map(d=>[x(d[0]),y(d[1])]), pxInner=p.dens.inner.map(d=>[x(d[0]),y(d[1])]), pk=[x(p.dens.peak[0]),y(p.dens.peak[1])];
  const line=d3.line().curve(d3.curveCatmullRomClosed.alpha(.5));
  const core=plot.append("g").attr("filter","url(#coreBlur)");
  const ra=rampScale(ramps[p.ramp].a), rb=rampScale(ramps[p.ramp].b);
  const nA=18,nB=26;
  d3.range(nA).forEach(k=>{const t=k/nA;
    core.append("path").attr("d",line(pxOuter.map((v,j)=>[v[0]+(pxInner[j][0]-v[0])*t,v[1]+(pxInner[j][1]-v[1])*t]))).attr("fill",ra(t));});
  d3.range(nB).forEach(k=>{const t=k/nB;
    core.append("path").attr("d",line(pxInner.map(v=>[v[0]+(pk[0]-v[0])*t,v[1]+(pk[1]-v[1])*t]))).attr("fill",rb(t));});
  // points
  plot.append("g").selectAll("ellipse").data(p.pts).join("ellipse")
    .attr("cx",d=>x(d[0])).attr("cy",d=>y(d[1])).attr("rx",p.dot[0]).attr("ry",p.dot[1]).attr("fill","#565656");
  // box
  g.append("rect").attr("x",x0).attr("y",y0).attr("width",x1-x0).attr("height",y1-y0).attr("fill","none").attr("stroke","#222").attr("stroke-width",p.sw||2);
  // axes
  const ax=g.append("g").attr("transform",`translate(0,${y1})`).call(d3.axisBottom(x).tickValues(p.t.x).tickSize(10).tickSizeOuter(0).tickFormat(d=>String(d)));
  ax.select(".domain").remove();
  ax.selectAll("line").attr("stroke","#222").attr("stroke-width",1.8);
  ax.selectAll("text").attr("font-size",27).attr("fill","#1a1a1a").attr("y",null).attr("dy",null)
    .attr("transform",d=>`translate(${(d<0?-3:0)+(p.xs||0)},38) scale(1.1,1)`);
  const ay=g.append("g").attr("transform",`translate(${x0},0)`).call(d3.axisLeft(y).tickValues(p.t.y).tickSize(12).tickSizeOuter(0)
    .tickFormat(d=>(p.t.yLabels&&!p.t.yLabels.includes(d))?"":String(d).replace("-","\u2212")));
  ay.select(".domain").remove();
  ay.selectAll("line").attr("stroke","#222").attr("stroke-width",1.8);
  ay.selectAll("text").attr("font-size",32).attr("fill","#1a1a1a").attr("x",null).attr("dy",null).attr("text-anchor","middle")
    .attr("transform",d=>`translate(${-p.yLab},${d<0?9:0}) rotate(-90)`);
  // correlation label
  txt(g,correlations[i],p.rEnd,p.rY,{size:35,sx:1.03,anchor:"end"});
});

// arrows with axis names
const arrowG=svg.append("g");
arrows.forEach(a=>{
  arrowG.append("path").attr("d",`M${a.x},${a.top+10}V${a.y}H${a.right-10}`).attr("fill","none").attr("stroke","#000").attr("stroke-width",2.6);
  arrowG.append("path").attr("d",`M${a.x},${a.top}L${a.x+9},${a.top+18}L${a.x},${a.top+14}L${a.x-9},${a.top+18}Z`).attr("fill","#000");
  arrowG.append("path").attr("d",`M${a.right},${a.y}L${a.right-18},${a.y+9}L${a.right-14},${a.y}L${a.right-18},${a.y-9}Z`).attr("fill","#000");
  txt(arrowG,[["PP-3",0],["rd",1]],a.ppX,a.ppY,{size:36,rot:-90});
  txt(arrowG,[["3",0],["rd",1],["-1",0],["st",1]],a.stX,a.stY,{size:34,sx:1.02});
});

// titles
const titles=svg.append("g");
[["RNA-seq",300,68],["Methylation",731,66],["RNA-seq",1191,72],["Methylation",1603,66]].forEach(d=>txt(titles,d[0],d[1],d[2],{size:33,weight:"bold",sx:1.08,anchor:"middle"}));
[["CD4",517,29],["CD8",1396,29]].forEach(d=>txt(titles,[[d[0],0],["+",1]],d[1],d[2],{size:29,weight:"bold",sx:1.22,anchor:"middle"}));
txt(titles,"A",4,29,{size:31,sx:1.05});
txt(titles,"B",926,29,{size:31,sx:1.05});
txt(titles,"MS",4,277,{size:34,weight:"bold"});
txt(titles,"HC",1,738,{size:34,weight:"bold"});
</script></body></html>
